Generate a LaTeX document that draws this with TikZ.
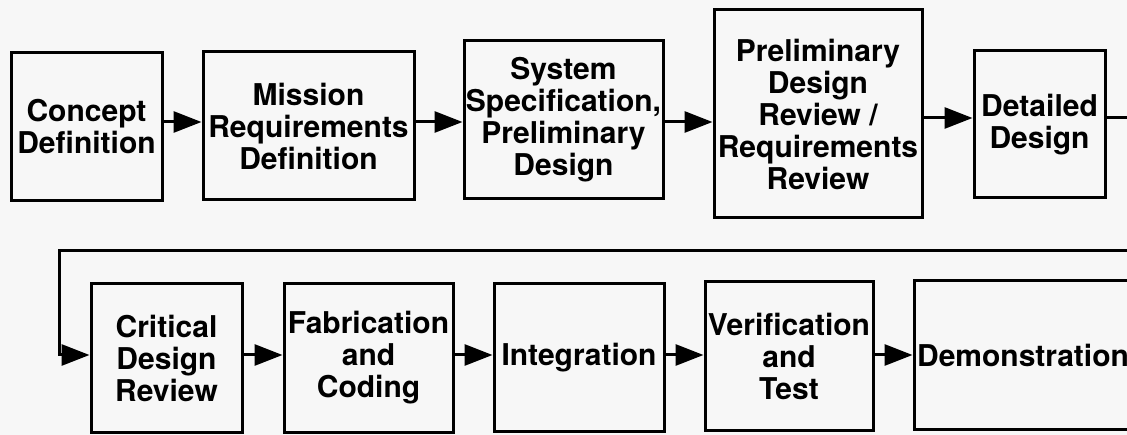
\documentclass[tikz,border=0pt]{standalone}
\usepackage{fontspec}
\setmainfont{TeX Gyre Heros}
\usetikzlibrary{positioning,arrows.meta}

\begin{document}
\begin{tikzpicture}[x=1pt, y=-1pt,
  box/.style={draw, line width=3pt, align=center, inner sep=1pt,
    font=\fontsize{30}{32}\selectfont\bfseries},
  flow/.style={-{Triangle[length=28pt, width=21pt]}, line width=3pt}]

% Canvas
\fill[black!3] (0,0) rectangle (1127,435);
\useasboundingbox (0,0) rectangle (1127,435);

% Nodes, top row
\node (concept) [box, minimum width=151pt, minimum height=148pt] at (86.5,127) {Concept\\Definition};
\node (mission) [box, minimum width=211pt, minimum height=148pt] at (308.5,126) {Mission\\Requirements\\Definition};
\node (system_spec) [box, minimum width=199pt, minimum height=158pt] at (563.5,120) {System\\Specification,\\Preliminary\\Design};
\node (prelim_review) [box, minimum width=208pt, minimum height=208pt] at (818,114) {Preliminary\\Design\\Review /\\Requirements\\Review};
\node (detailed_design) [box, minimum width=131pt, minimum height=147pt] at (1039.5,124.5) {Detailed\\Design};

% Nodes, bottom row
\node (critical_review) [box, minimum width=151pt, minimum height=148pt] at (166.5,358) {Critical\\Design\\Review};
\node (fabrication) [box, minimum width=169pt, minimum height=148pt] at (368.5,358) {Fabrication\\and\\Coding};
\node (integration) [box, minimum width=170pt, minimum height=147pt] at (579,357.5) {Integration};
\node (verification) [box, minimum width=168pt, minimum height=148pt] at (789,356) {Verification\\and\\Test};
\node (demonstration) [box, minimum width=218pt, minimum height=148pt] at (1023,355) {Demonstration};

% Rows the arrows run along
\coordinate (top_row) at (0,122);
\coordinate (top_row2) at (0,118);
\coordinate (bottom_row) at (0,355);
\coordinate (turn_right) at (1150,251);
\coordinate (turn_left) at (59,251);

% Arrows, top row
\draw[flow] (concept.east |- top_row) -- (mission.west |- top_row);
\draw[flow] (mission.east |- top_row) -- (system_spec.west |- top_row);
\draw[flow] (system_spec.east |- top_row) -- (prelim_review.west |- top_row);
\draw[flow] (prelim_review.east |- top_row2) -- (detailed_design.west |- top_row2);

% Return line to the second row
\draw[flow] (detailed_design.east |- top_row2) -| (turn_right) -- (turn_left) |- (critical_review.west |- bottom_row);

% Arrows, bottom row
\draw[flow] (critical_review.east |- bottom_row) -- (fabrication.west |- bottom_row);
\draw[flow] (fabrication.east |- bottom_row) -- (integration.west |- bottom_row);
\draw[flow] (integration.east |- bottom_row) -- (verification.west |- bottom_row);
\draw[flow] (verification.east |- bottom_row) -- (demonstration.west |- bottom_row);

\end{tikzpicture}
\end{document}
